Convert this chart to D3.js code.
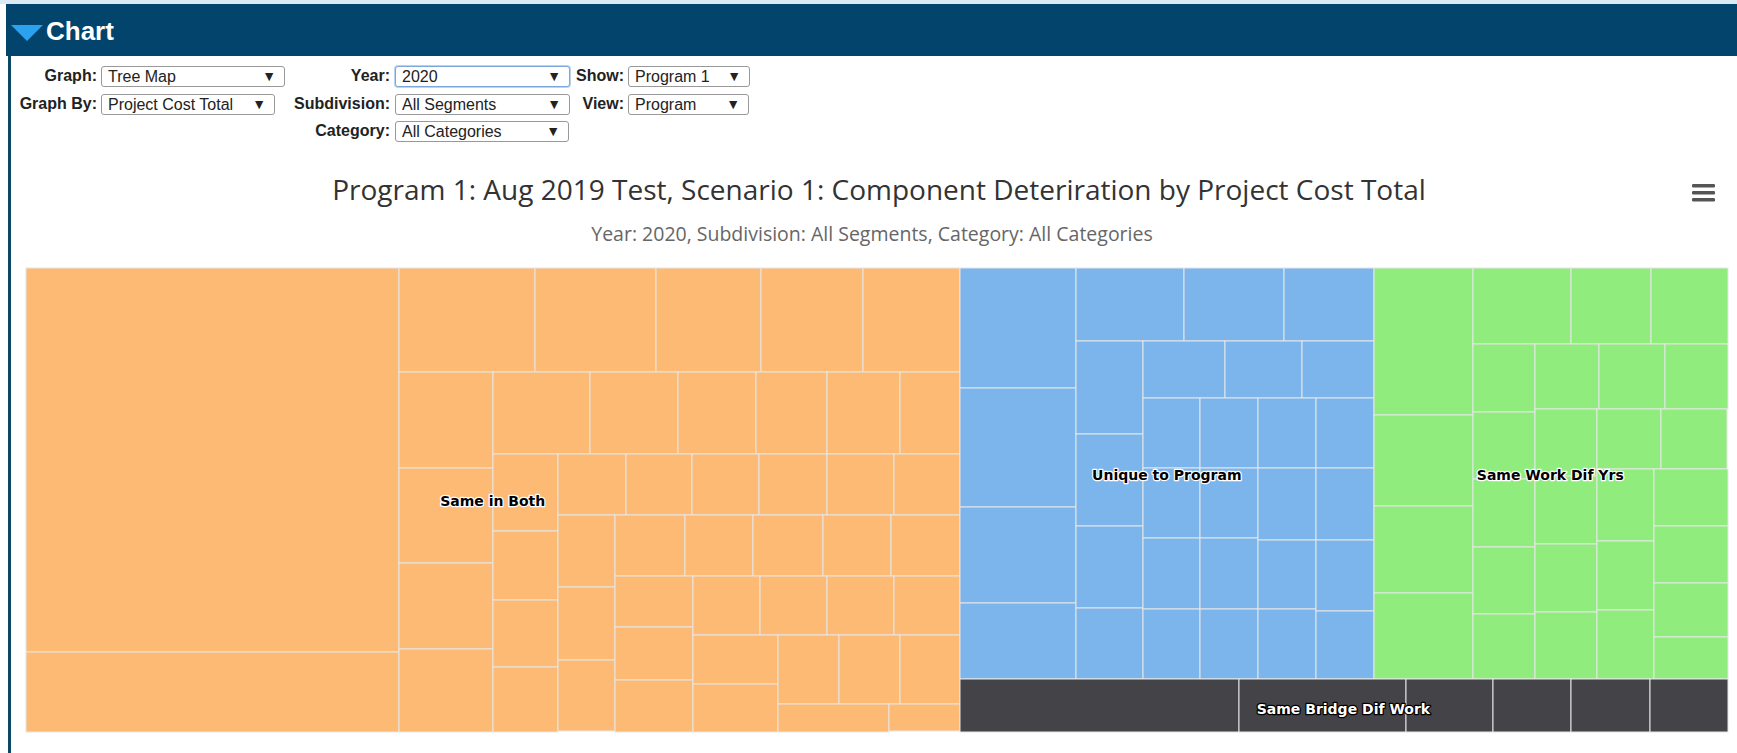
<!DOCTYPE html>
<html>
<head>
<meta charset="utf-8">
<title>Chart</title>
<script src="https://d3js.org/d3.v7.min.js"></script>
<style>
  body { margin: 0; width: 1737px; height: 753px; overflow: hidden; background: #fff; position: relative;
         font-family: "Liberation Sans", Arial, sans-serif; }
  #topline { position: absolute; left: 0; top: 0; width: 1737px; height: 4px; background: #dceaf4; }
  #header { position: absolute; left: 6px; top: 4px; width: 1731px; height: 52px; background: #02446b; }
  #header .tri { position: absolute; left: 5px; top: 21px; width: 0; height: 0;
                 border-left: 16.5px solid transparent; border-right: 16.5px solid transparent; border-top: 16px solid #2ba2f0; }
  #header .ttl { position: absolute; left: 40px; top: 12px; color: #fff; font-weight: bold; font-size: 26px; line-height: 30px; }
  #leftbar { position: absolute; left: 8px; top: 56px; width: 3px; height: 697px; background: #0c4763; }
  .lbl { position: absolute; font-weight: bold; font-size: 16px; color: #222; line-height: 20px; text-align: right; }
  .sel { position: absolute; height: 19px; border: 1px solid #999; border-radius: 3px; font-size: 16px;
         line-height: 19px; color: #222; background: #fff; box-sizing: content-box; }
  .sel span { position: absolute; left: 6px; top: 0; }
  .sel b { position: absolute; right: 8px; top: 0; font-size: 14px; font-weight: normal; color: #222; }
  .sel.focus { border-color: #7aa7de; box-shadow: 0 0 0 1px #bcd3f0; }
  svg { position: absolute; left: 0; top: 0; }
</style>
</head>
<body>
<div id="topline"></div>
<div id="header"><div class="tri"></div><div class="ttl">Chart</div></div>
<div id="leftbar"></div>

<div class="lbl" style="left:12px;width:85px;top:66px">Graph:</div>
<div class="sel" style="left:101px;top:66px;width:182px"><span>Tree Map</span><b>&#9660;</b></div>
<div class="lbl" style="left:12px;width:85px;top:94px">Graph By:</div>
<div class="sel" style="left:101px;top:94px;width:172px"><span>Project Cost Total</span><b>&#9660;</b></div>

<div class="lbl" style="left:280px;width:110px;top:66px">Year:</div>
<div class="sel focus" style="left:395px;top:66px;width:173px"><span>2020</span><b>&#9660;</b></div>
<div class="lbl" style="left:280px;width:110px;top:94px">Subdivision:</div>
<div class="sel" style="left:395px;top:94px;width:173px"><span>All Segments</span><b>&#9660;</b></div>
<div class="lbl" style="left:280px;width:110px;top:121px">Category:</div>
<div class="sel" style="left:395px;top:121px;width:172px"><span>All Categories</span><b>&#9660;</b></div>

<div class="lbl" style="left:560px;width:64px;top:66px">Show:</div>
<div class="sel" style="left:628px;top:66px;width:120px"><span>Program 1</span><b>&#9660;</b></div>
<div class="lbl" style="left:560px;width:64px;top:94px">View:</div>
<div class="sel" style="left:628px;top:94px;width:119px"><span>Program</span><b>&#9660;</b></div>

<script>
// project cost per item, grouped by comparison category (order as drawn)
var groupNames = ["Same in Both", "Unique to Program", "Same Work Dif Yrs", "Same Bridge Dif Work"];
var sameInBoth = [14304, 2961, 1412, 1253, 1090, 1062, 1009, 911, 897, 812, 774,
  796, 731, 640, 585, 598, 500, 501, 444, 440, 418, 406, 401, 403, 412, 398, 403,
  409, 407, 405, 429, 415, 427, 413, 424, 402, 418, 402, 402, 404, 396, 401,
  417, 400, 417, 417, 411, 308, 197];
var uniqueToProgram = [1392, 1366, 1117, 878, 786, 734, 659, 619, 609, 548, 474,
  465, 436, 404, 407, 403, 412, 406, 408, 410, 409, 402, 412, 406, 414, 412,
  404, 408, 412, 397];
var sameWorkDifYrs = [1446, 896, 861, 850, 753, 614, 581, 426, 420, 420, 424, 409,
  412, 423, 406, 415, 418, 421, 413, 384, 398, 409, 401, 395, 416, 413, 397, 309];
var sameBridgeDifWork = [1452, 865, 454, 408, 409, 404];

var groupValues = [sameInBoth, uniqueToProgram, sameWorkDifYrs, sameBridgeDifWork];
var groupColors = ["#fdba74", "#7cb5ec", "#90ed7d", "#434348"];

var chartTitle = "Program 1: Aug 2019 Test, Scenario 1: Component Deteriration by Project Cost Total";
var chartSubtitle = "Year: 2020, Subdivision: All Segments, Category: All Categories";

var plot = { left: 25.5, top: 267.5, width: 1701.5, height: 463.5 };

// squarified layout, same stepping rule as Highcharts treemap (vertical start)
function squarified(parent, x0, y0, x1, y1) {
  var kids = parent.children, area = (x1 - x0) * (y1 - y0);
  var g = { width: x1 - x0, height: y1 - y0, dir: 0, total: 0, nW: 0, lW: 0, nH: 0, lH: 0, els: [] };
  var lp = { lR: 0, nR: 0 };
  var cx = x0, cy = y0;
  function ratio(a, b) { return Math.max(a / b, b / a); }
  function add(n) {
    var last = g.els.length ? g.els[g.els.length - 1].a : undefined;
    g.total += n.a;
    if (g.dir === 0) {
      g.lW = g.nW;
      lp.lR = ratio(g.lW, last / g.lW);
      g.nW = g.total / g.height;
      lp.nR = ratio(g.nW, last / g.nW);
    } else {
      g.lH = g.nH;
      lp.lR = ratio(last / g.lH, g.lH);
      g.nH = g.total / g.width;
      lp.nR = ratio(last / g.nH, g.nH);
    }
    g.els.push(n);
  }
  function place(isLast) {
    var els = g.els, end = els.length - 1, keep, w = g.lW, h = g.lH;
    if (isLast) { w = g.nW; h = g.nH; } else { keep = els[end]; }
    els.forEach(function (n, i) {
      if (isLast || i < end) {
        if (g.dir === 0) {
          n.x0 = cx; n.y0 = cy; n.x1 = cx + w; n.y1 = cy + n.a / w; cy = n.y1;
        } else {
          n.x0 = cx; n.y0 = cy; n.y1 = cy + h; n.x1 = cx + n.a / h; cx = n.x1;
        }
      }
    });
    g.els = []; g.total = 0; g.nW = 0; g.lW = 0;
    if (g.dir === 0) g.width -= w; else g.height -= h;
    cy = y1 - g.height;
    cx = x1 - g.width;
    g.dir = 1 - g.dir;
    if (!isLast) add(keep);
  }
  kids.forEach(function (n, i) {
    n.a = area * n.value / parent.value;
    add(n);
    if (lp.nR > lp.lR) place(false);
    if (i === kids.length - 1) place(true);
  });
}

var data = {
  name: "root",
  children: groupNames.map(function (g, i) {
    return { name: g, color: groupColors[i],
      children: groupValues[i].map(function (v, j) { return { name: g + " " + (j + 1), value: v }; }) };
  })
};

var root = d3.hierarchy(data).sum(function (d) { return d.value || 0; });
d3.treemap().tile(squarified).size([plot.width, plot.height])(root);

var svg = d3.select("body").append("svg")
    .attr("width", 1737)
    .attr("height", 753);

svg.append("text")
    .attr("x", 879).attr("y", 200)
    .attr("text-anchor", "middle")
    .style("font-family", "'Open Sans', sans-serif")
    .style("font-size", "28px")
    .style("fill", "#333")
    .text(chartTitle);

svg.append("text")
    .attr("x", 872).attr("y", 241)
    .attr("text-anchor", "middle")
    .style("font-family", "'Open Sans', sans-serif")
    .style("font-size", "19.5px")
    .style("fill", "#666")
    .text(chartSubtitle);

// export menu icon
var menu = svg.append("g").attr("transform", "translate(1692,184)");
[0, 7, 14].forEach(function (y) {
  menu.append("rect").attr("x", 0).attr("y", y).attr("width", 23).attr("height", 3.4)
      .attr("rx", 1.2).attr("fill", "#555");
});

var g = svg.append("g").attr("transform", "translate(" + plot.left + "," + plot.top + ")");

g.selectAll("rect.cell")
  .data(root.leaves())
  .enter().append("rect")
    .attr("class", "cell")
    .attr("x", function (d) { return Math.round(d.x0) + 0.5; })
    .attr("y", function (d) { return Math.round(d.y0) + 0.5; })
    .attr("width", function (d) { return Math.round(d.x1) - Math.round(d.x0); })
    .attr("height", function (d) { return Math.round(d.y1) - Math.round(d.y0); })
    .attr("fill", function (d) { return d.parent.data.color; })
    .attr("stroke", "#e6e6e6")
    .attr("stroke-width", 1);

g.selectAll("text.group")
  .data(root.children)
  .enter().append("text")
    .attr("class", "group")
    .attr("x", function (d) { return (d.x0 + d.x1) / 2; })
    .attr("y", function (d, i) { return (d.y0 + d.y1) / 2 + (i === 3 ? 4 : 2); })
    .attr("dy", "0.35em")
    .attr("text-anchor", "middle")
    .style("font-family", "'DejaVu Sans', sans-serif")
    .style("font-weight", "bold")
    .style("font-size", "14px")
    .style("paint-order", "stroke")
    .style("stroke-linejoin", "round")
    .attr("stroke-width", 2.5)
    .attr("stroke", function (d, i) { return i === 3 ? "#000" : "#fff"; })
    .attr("fill", function (d, i) { return i === 3 ? "#fff" : "#000"; })
    .text(function (d) { return d.data.name; });
</script>
</body>
</html>
